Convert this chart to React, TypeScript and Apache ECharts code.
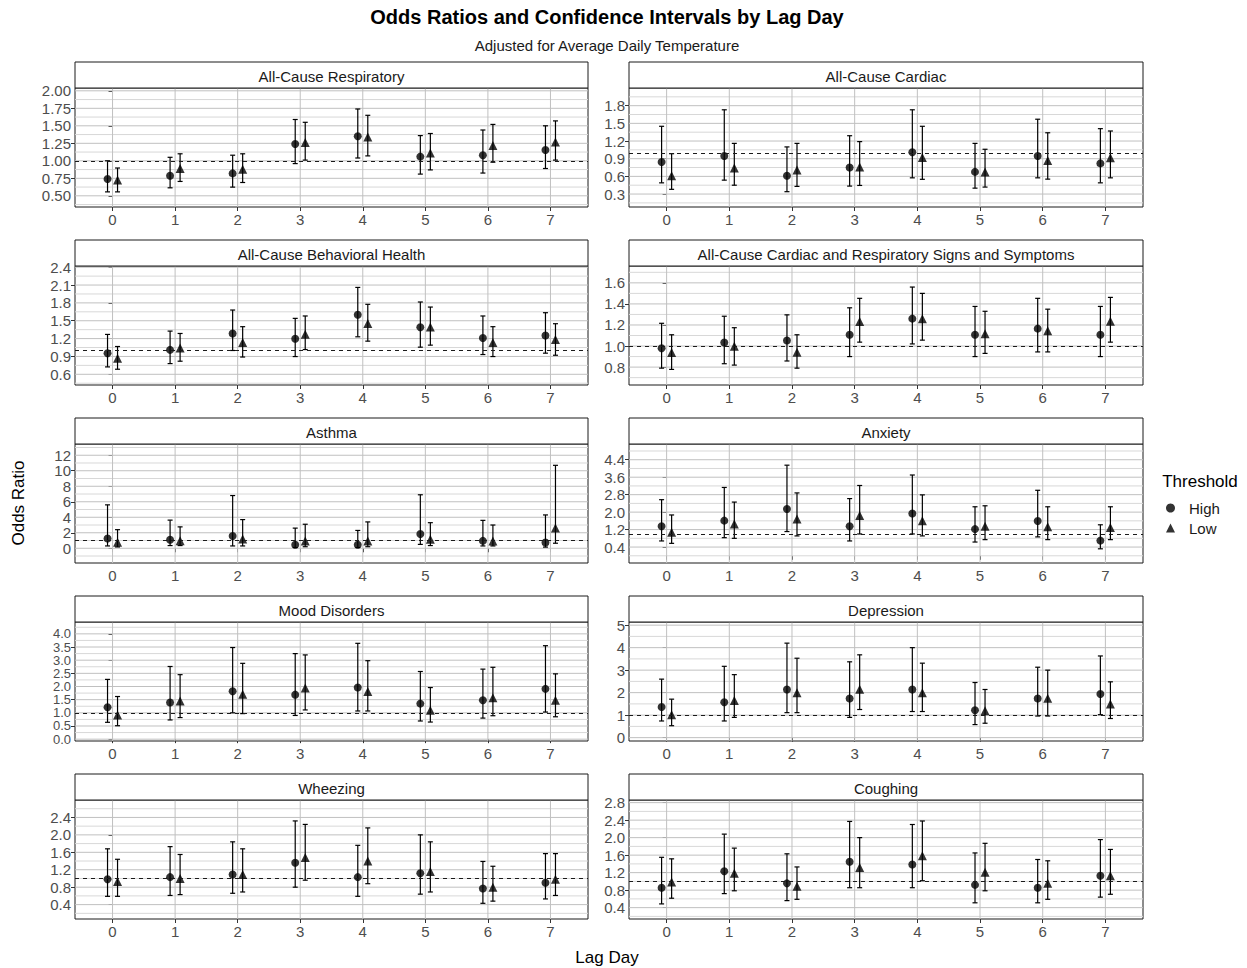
import React, { useEffect, useRef } from "react";
import * as echarts from "echarts";

// ---------- data ----------
const LAGS = [0, 1, 2, 3, 4, 5, 6, 7];
const X_MIN = -0.6;
const X_MAX = 7.6;
const DODGE = 0.08;
const CAP = 0.04;

const panelTitles = [
  "All-Cause Respiratory",
  "All-Cause Cardiac",
  "All-Cause Behavioral Health",
  "All-Cause Cardiac and Respiratory Signs and Symptoms",
  "Asthma",
  "Anxiety",
  "Mood Disorders",
  "Depression",
  "Wheezing",
  "Coughing",
];

// each row: [odds ratio, lower CI, upper CI] for lag 0..7
const respHigh = [[0.74, 0.556, 1.0], [0.787, 0.614, 1.05], [0.82, 0.624, 1.08], [1.24, 0.96, 1.59], [1.35, 1.04, 1.74], [1.06, 0.81, 1.36], [1.08, 0.825, 1.44], [1.155, 0.89, 1.5]];
const respLow = [[0.725, 0.556, 0.897], [0.89, 0.705, 1.1], [0.88, 0.69, 1.1], [1.26, 1.01, 1.55], [1.34, 1.07, 1.65], [1.11, 0.87, 1.39], [1.22, 0.98, 1.52], [1.27, 1.01, 1.57]];

const cardHigh = [[0.845, 0.49, 1.45], [0.946, 0.536, 1.73], [0.61, 0.34, 1.1], [0.75, 0.435, 1.29], [1.01, 0.575, 1.73], [0.676, 0.4, 1.16], [0.946, 0.575, 1.57], [0.82, 0.49, 1.41]];
const cardLow = [[0.61, 0.38, 0.985], [0.74, 0.45, 1.16], [0.71, 0.43, 1.16], [0.76, 0.446, 1.19], [0.92, 0.55, 1.45], [0.676, 0.418, 1.06], [0.87, 0.553, 1.34], [0.918, 0.575, 1.37]];

const behavHigh = [[0.955, 0.724, 1.27], [1.01, 0.78, 1.326], [1.286, 1.0, 1.68], [1.196, 0.898, 1.54], [1.6, 1.23, 2.06], [1.39, 1.056, 1.815], [1.21, 0.932, 1.58], [1.253, 0.955, 1.635]];
const behavLow = [[0.87, 0.685, 1.067], [1.04, 0.82, 1.286], [1.135, 0.89, 1.4], [1.275, 1.016, 1.58], [1.455, 1.157, 1.776], [1.393, 1.09, 1.73], [1.135, 0.898, 1.4], [1.185, 0.92, 1.45]];

const crssHigh = [[0.979, 0.79, 1.216], [1.034, 0.832, 1.283], [1.053, 0.858, 1.296], [1.107, 0.9, 1.363], [1.26, 1.02, 1.56], [1.107, 0.9, 1.376], [1.165, 0.944, 1.453], [1.107, 0.9, 1.376]];
const crssLow = [[0.938, 0.778, 1.107], [0.998, 0.819, 1.174], [0.94, 0.79, 1.107], [1.232, 1.037, 1.453], [1.26, 1.056, 1.5], [1.117, 0.93, 1.33], [1.146, 0.944, 1.35], [1.235, 1.037, 1.462]];

const asthmaHigh = [[1.27, 0.3, 5.6], [1.09, 0.35, 3.63], [1.58, 0.3, 6.8], [0.45, 0.1, 2.6], [0.45, 0.1, 2.3], [1.85, 0.5, 6.9], [0.95, 0.3, 3.6], [0.75, 0.15, 4.3]];
const asthmaLow = [[0.79, 0.17, 2.4], [0.96, 0.35, 2.76], [1.2, 0.3, 3.7], [0.95, 0.2, 3.1], [0.95, 0.2, 3.4], [1.15, 0.35, 3.3], [0.95, 0.3, 3.0], [2.6, 0.65, 10.7]];

const anxHigh = [[1.35, 0.68, 2.57], [1.61, 0.83, 3.13], [2.14, 1.11, 4.15], [1.35, 0.68, 2.62], [1.935, 1.0, 3.7], [1.22, 0.63, 2.245], [1.594, 0.865, 3.0], [0.695, 0.32, 1.42]];
const anxLow = [[1.08, 0.57, 1.87], [1.455, 0.8, 2.46], [1.69, 0.91, 2.88], [1.84, 1.0, 3.22], [1.61, 0.91, 2.79], [1.35, 0.74, 2.29], [1.33, 0.74, 2.245], [1.3, 0.74, 2.245]];

const moodHigh = [[1.21, 0.64, 2.27], [1.39, 0.73, 2.76], [1.82, 1.0, 3.48], [1.69, 0.9, 3.25], [1.96, 1.07, 3.64], [1.35, 0.69, 2.57], [1.48, 0.8, 2.66], [1.91, 1.03, 3.55]];
const moodLow = [[0.92, 0.51, 1.62], [1.45, 0.82, 2.45], [1.71, 0.97, 2.88], [1.94, 1.11, 3.2], [1.81, 1.07, 2.98], [1.1, 0.65, 1.96], [1.57, 0.89, 2.73], [1.48, 0.85, 2.48]];

const depHigh = [[1.365, 0.74, 2.6], [1.57, 0.74, 3.17], [2.14, 1.11, 4.2], [1.74, 0.9, 3.37], [2.14, 1.16, 4.0], [1.22, 0.58, 2.45], [1.74, 0.96, 3.13], [1.94, 1.02, 3.63]];
const depLow = [[1.02, 0.53, 1.71], [1.65, 0.9, 2.8], [2.0, 1.11, 3.53], [2.15, 1.25, 3.68], [1.99, 1.16, 3.31], [1.2, 0.64, 2.14], [1.75, 0.96, 3.0], [1.5, 0.85, 2.48]];

const wheezeHigh = [[0.98, 0.59, 1.68], [1.03, 0.61, 1.73], [1.09, 0.66, 1.84], [1.36, 0.8, 2.32], [1.03, 0.59, 1.76], [1.12, 0.64, 2.0], [0.77, 0.43, 1.39], [0.9, 0.53, 1.57]];
const wheezeLow = [[0.93, 0.59, 1.44], [1.0, 0.63, 1.55], [1.09, 0.69, 1.68], [1.48, 0.96, 2.24], [1.4, 0.88, 2.16], [1.16, 0.69, 1.84], [0.8, 0.48, 1.28], [0.98, 0.61, 1.57]];

const coughHigh = [[0.855, 0.485, 1.55], [1.23, 0.72, 2.08], [0.955, 0.56, 1.63], [1.45, 0.855, 2.37], [1.385, 0.855, 2.3], [0.92, 0.51, 1.65], [0.855, 0.51, 1.5], [1.13, 0.64, 1.955]];
const coughLow = [[0.985, 0.615, 1.515], [1.185, 0.785, 1.76], [0.89, 0.59, 1.33], [1.32, 0.855, 2.0], [1.585, 1.015, 2.38], [1.21, 0.785, 1.87], [0.955, 0.59, 1.47], [1.13, 0.705, 1.73]];

// y-axis tick labels per panel
const ticksResp = [0.5, 0.75, 1.0, 1.25, 1.5, 1.75, 2.0];
const ticksCard = [0.3, 0.6, 0.9, 1.2, 1.5, 1.8];
const ticksBehav = [0.6, 0.9, 1.2, 1.5, 1.8, 2.1, 2.4];
const ticksCrss = [0.8, 1.0, 1.2, 1.4, 1.6];
const ticksAsthma = [0, 2, 4, 6, 8, 10, 12];
const ticksAnx = [0.4, 1.2, 2.0, 2.8, 3.6, 4.4];
const ticksMood = [0, 0.5, 1.0, 1.5, 2.0, 2.5, 3.0, 3.5, 4.0];
const ticksDep = [0, 1, 2, 3, 4, 5];
const ticksWheeze = [0.4, 0.8, 1.2, 1.6, 2.0, 2.4];
const ticksCough = [0.4, 0.8, 1.2, 1.6, 2.0, 2.4, 2.8];

// y-axis limits per panel [min, max]
const rangeResp = [0.34, 2.04];
const rangeCard = [0.08, 2.1];
const rangeBehav = [0.42, 2.42];
const rangeCrss = [0.63, 1.76];
const rangeAsthma = [-1.9, 13.45];
const rangeAnx = [-0.33, 5.12];
const rangeMood = [-0.07, 4.45];
const rangeDep = [-0.15, 5.14];
const rangeWheeze = [0.07, 2.8];
const rangeCough = [0.14, 2.86];

const decimals = [2, 1, 1, 1, 0, 1, 1, 0, 1, 1];
const REF_LINE = 1;

const panels = [
  { high: respHigh, low: respLow, ticks: ticksResp, range: rangeResp },
  { high: cardHigh, low: cardLow, ticks: ticksCard, range: rangeCard },
  { high: behavHigh, low: behavLow, ticks: ticksBehav, range: rangeBehav },
  { high: crssHigh, low: crssLow, ticks: ticksCrss, range: rangeCrss },
  { high: asthmaHigh, low: asthmaLow, ticks: ticksAsthma, range: rangeAsthma },
  { high: anxHigh, low: anxLow, ticks: ticksAnx, range: rangeAnx },
  { high: moodHigh, low: moodLow, ticks: ticksMood, range: rangeMood },
  { high: depHigh, low: depLow, ticks: ticksDep, range: rangeDep },
  { high: wheezeHigh, low: wheezeLow, ticks: ticksWheeze, range: rangeWheeze },
  { high: coughHigh, low: coughLow, ticks: ticksCough, range: rangeCough },
];

// ---------- layout ----------
const FONT = "'Liberation Sans', Arial, sans-serif";
const COL_LEFT = [75, 629];
const COL_WIDTH = [513, 514];
const PANEL_TOP0 = 88;
const ROW_PITCH = 178;
const PANEL_H = 119;
const STRIP_H = 26;

function makeYAxis(gridIndex: number, range: number[], values: number[], d: number, size: number) {
  return {
    type: "value",
    gridIndex,
    position: "left",
    offset: 0,
    min: range[0],
    max: range[1],
    axisLine: { show: false },
    axisTick: { show: true, customValues: values, length: 4, lineStyle: { color: "#333", width: 1 } },
    axisLabel: {
      customValues: values,
      showMinLabel: true,
      showMaxLabel: true,
      hideOverlap: false,
      color: "#4d4d4d",
      fontSize: size,
      lineHeight: 13,
      fontFamily: FONT,
      margin: 4,
      formatter: (v: number) => v.toFixed(d),
    },
    splitLine: { show: false },
  };
}

function buildOption() {
  const grid: any[] = [];
  const xAxis: any[] = [];
  const yAxis: any[] = [];
  const yAxisAlt: any[] = [];
  const series: any[] = [];
  const graphic: any[] = [];

  panels.forEach((p, i) => {
    const col = i % 2;
    const row = Math.floor(i / 2);
    const left = COL_LEFT[col];
    const width = COL_WIDTH[col];
    const top = PANEL_TOP0 + row * ROW_PITCH;
    const [yMin, yMax] = p.range;

    grid.push({
      left,
      top,
      width,
      height: PANEL_H,
      show: true,
      borderColor: "#1a1a1a",
      borderWidth: 1,
      backgroundColor: "transparent",
      containLabel: false,
    });

    xAxis.push({
      type: "value",
      gridIndex: i,
      min: X_MIN,
      max: X_MAX,
      axisLine: { show: false },
      axisTick: { show: true, customValues: LAGS, length: 4, lineStyle: { color: "#333", width: 1 } },
      axisLabel: { customValues: LAGS, color: "#4d4d4d", fontSize: 15, fontFamily: FONT, margin: 5 },
      splitLine: { show: false },
    });

    // tick labels split over two overlaid axes so none of them gets auto-hidden
    const d = decimals[i];
    const size = p.ticks.length > 8 ? 13 : 15;
    const evens = p.ticks.filter((_, k) => k % 2 === 0);
    const odds = p.ticks.filter((_, k) => k % 2 === 1);
    yAxis.push(makeYAxis(i, p.range, evens, d, size));
    yAxisAlt.push(makeYAxis(i, p.range, odds, d, size));

    // grid lines (major + minor horizontal, vertical at lags)
    const step = p.ticks[1] - p.ticks[0];
    const gl: number[][] = [];
    p.ticks.forEach((t) => gl.push([0, t]));
    const minors: number[] = [];
    for (let k = 0; k < p.ticks.length - 1; k++) minors.push((p.ticks[k] + p.ticks[k + 1]) / 2);
    const below = p.ticks[0] - step / 2;
    const above = p.ticks[p.ticks.length - 1] + step / 2;
    if (below >= yMin) minors.push(below);
    if (above <= yMax) minors.push(above);
    minors.forEach((m) => gl.push([1, m]));
    LAGS.forEach((l) => gl.push([2, l]));

    series.push({
      type: "custom",
      xAxisIndex: i,
      yAxisIndex: i,
      silent: true,
      z: 1,
      data: gl,
      renderItem: (params: any, api: any) => {
        const kind = api.value(0);
        const v = api.value(1);
        let a, b;
        if (kind === 2) {
          a = api.coord([v, yMin]);
          b = api.coord([v, yMax]);
        } else {
          a = api.coord([X_MIN, v]);
          b = api.coord([X_MAX, v]);
        }
        return {
          type: "line",
          shape: { x1: a[0], y1: a[1], x2: b[0], y2: b[1] },
          style: { stroke: kind === 1 ? "#d8d8d8" : "#c0c0c0", lineWidth: 1 },
        };
      },
    });

    // error bars
    const eb: number[][] = [];
    LAGS.forEach((l, j) => {
      eb.push([l - DODGE, p.high[j][1], p.high[j][2]]);
      eb.push([l + DODGE, p.low[j][1], p.low[j][2]]);
    });
    series.push({
      type: "custom",
      xAxisIndex: i,
      yAxisIndex: i,
      silent: true,
      z: 3,
      data: eb,
      renderItem: (params: any, api: any) => {
        const x = api.value(0);
        const lo = api.value(1);
        const hi = api.value(2);
        const t = api.coord([x, hi]);
        const b = api.coord([x, lo]);
        const tl = api.coord([x - CAP, hi]);
        const tr = api.coord([x + CAP, hi]);
        const bl = api.coord([x - CAP, lo]);
        const br = api.coord([x + CAP, lo]);
        const st = { stroke: "#000", lineWidth: 1.2 };
        return {
          type: "group",
          children: [
            { type: "line", shape: { x1: t[0], y1: t[1], x2: b[0], y2: b[1] }, style: st },
            { type: "line", shape: { x1: tl[0], y1: tl[1], x2: tr[0], y2: tr[1] }, style: st },
            { type: "line", shape: { x1: bl[0], y1: bl[1], x2: br[0], y2: br[1] }, style: st },
          ],
        };
      },
      markLine: {
        silent: true,
        symbol: ["none", "none"],
        label: { show: false },
        lineStyle: { type: [4, 4], color: "#1a1a1a", width: 1 },
        data: [{ yAxis: REF_LINE }],
      },
    });

    series.push({
      name: "High",
      type: "scatter",
      xAxisIndex: i,
      yAxisIndex: i,
      z: 4,
      symbol: "circle",
      symbolSize: 8,
      itemStyle: { color: "#000" },
      data: LAGS.map((l, j) => [l - DODGE, p.high[j][0]]),
    });
    series.push({
      name: "Low",
      type: "scatter",
      xAxisIndex: i,
      yAxisIndex: i,
      z: 4,
      symbol: "triangle",
      symbolSize: 9,
      itemStyle: { color: "#000" },
      data: LAGS.map((l, j) => [l + DODGE, p.low[j][0]]),
    });

    // facet strip
    const stripTop = top - STRIP_H;
    graphic.push({
      type: "rect",
      shape: { x: left, y: stripTop, width, height: STRIP_H },
      style: { fill: "#fff", stroke: "#1a1a1a", lineWidth: 1 },
      z: 10,
    });
    graphic.push({
      type: "text",
      x: left + width / 2,
      y: stripTop + STRIP_H / 2 + 1,
      z: 11,
      style: {
        text: panelTitles[i],
        fontSize: 15,
        fontFamily: FONT,
        fill: "#1a1a1a",
        textAlign: "center",
        textVerticalAlign: "middle",
        align: "center",
        verticalAlign: "middle",
      },
    });
  });

  const textEl = (text: string, x: number, y: number, size: number, extra: any = {}) => ({
    type: "text",
    x,
    y,
    z: 11,
    ...extra,
    style: {
      text,
      fontSize: size,
      fontFamily: FONT,
      fill: "#000",
      textAlign: "center",
      textVerticalAlign: "middle",
      align: "center",
      verticalAlign: "middle",
      ...(extra.style || {}),
    },
  });

  graphic.push(textEl("Odds Ratios and Confidence Intervals by Lag Day", 607, 17, 20, { style: { fontWeight: "bold" } }));
  graphic.push(textEl("Adjusted for Average Daily Temperature", 607, 45, 15, { style: { fill: "#1a1a1a" } }));
  graphic.push(textEl("Lag Day", 607, 957, 17));
  graphic.push(textEl("Odds Ratio", 18, 503, 17, { rotation: Math.PI / 2 }));
  graphic.push(textEl("Threshold", 1200, 481, 17, { style: { fill: "#000" } }));

  return {
    animation: false,
    textStyle: { fontFamily: FONT },
    grid,
    xAxis,
    yAxis: yAxis.concat(yAxisAlt),
    series,
    graphic,
    legend: {
      data: [
        { name: "High", icon: "circle" },
        { name: "Low", icon: "triangle" },
      ],
      orient: "vertical",
      left: 1166,
      top: 500,
      padding: 0,
      itemWidth: 9,
      itemHeight: 9,
      itemGap: 4,
      selectedMode: false,
      itemStyle: { color: "#000" },
      textStyle: { fontSize: 15, fontFamily: FONT, color: "#1a1a1a", lineHeight: 16, padding: [0, 0, 0, 9] },
    },
  };
}

export default function App() {
  const ref = useRef<HTMLDivElement>(null);
  useEffect(() => {
    document.body.style.margin = "0";
    if (!ref.current) return;
    const chart = echarts.init(ref.current, null, { renderer: "svg" });
    chart.setOption(buildOption() as any);
    return () => chart.dispose();
  }, []);
  return (
    <div
      ref={ref}
      style={{ position: "fixed", left: 0, top: 0, width: 1247, height: 968, background: "#fff" }}
    />
  );
}
